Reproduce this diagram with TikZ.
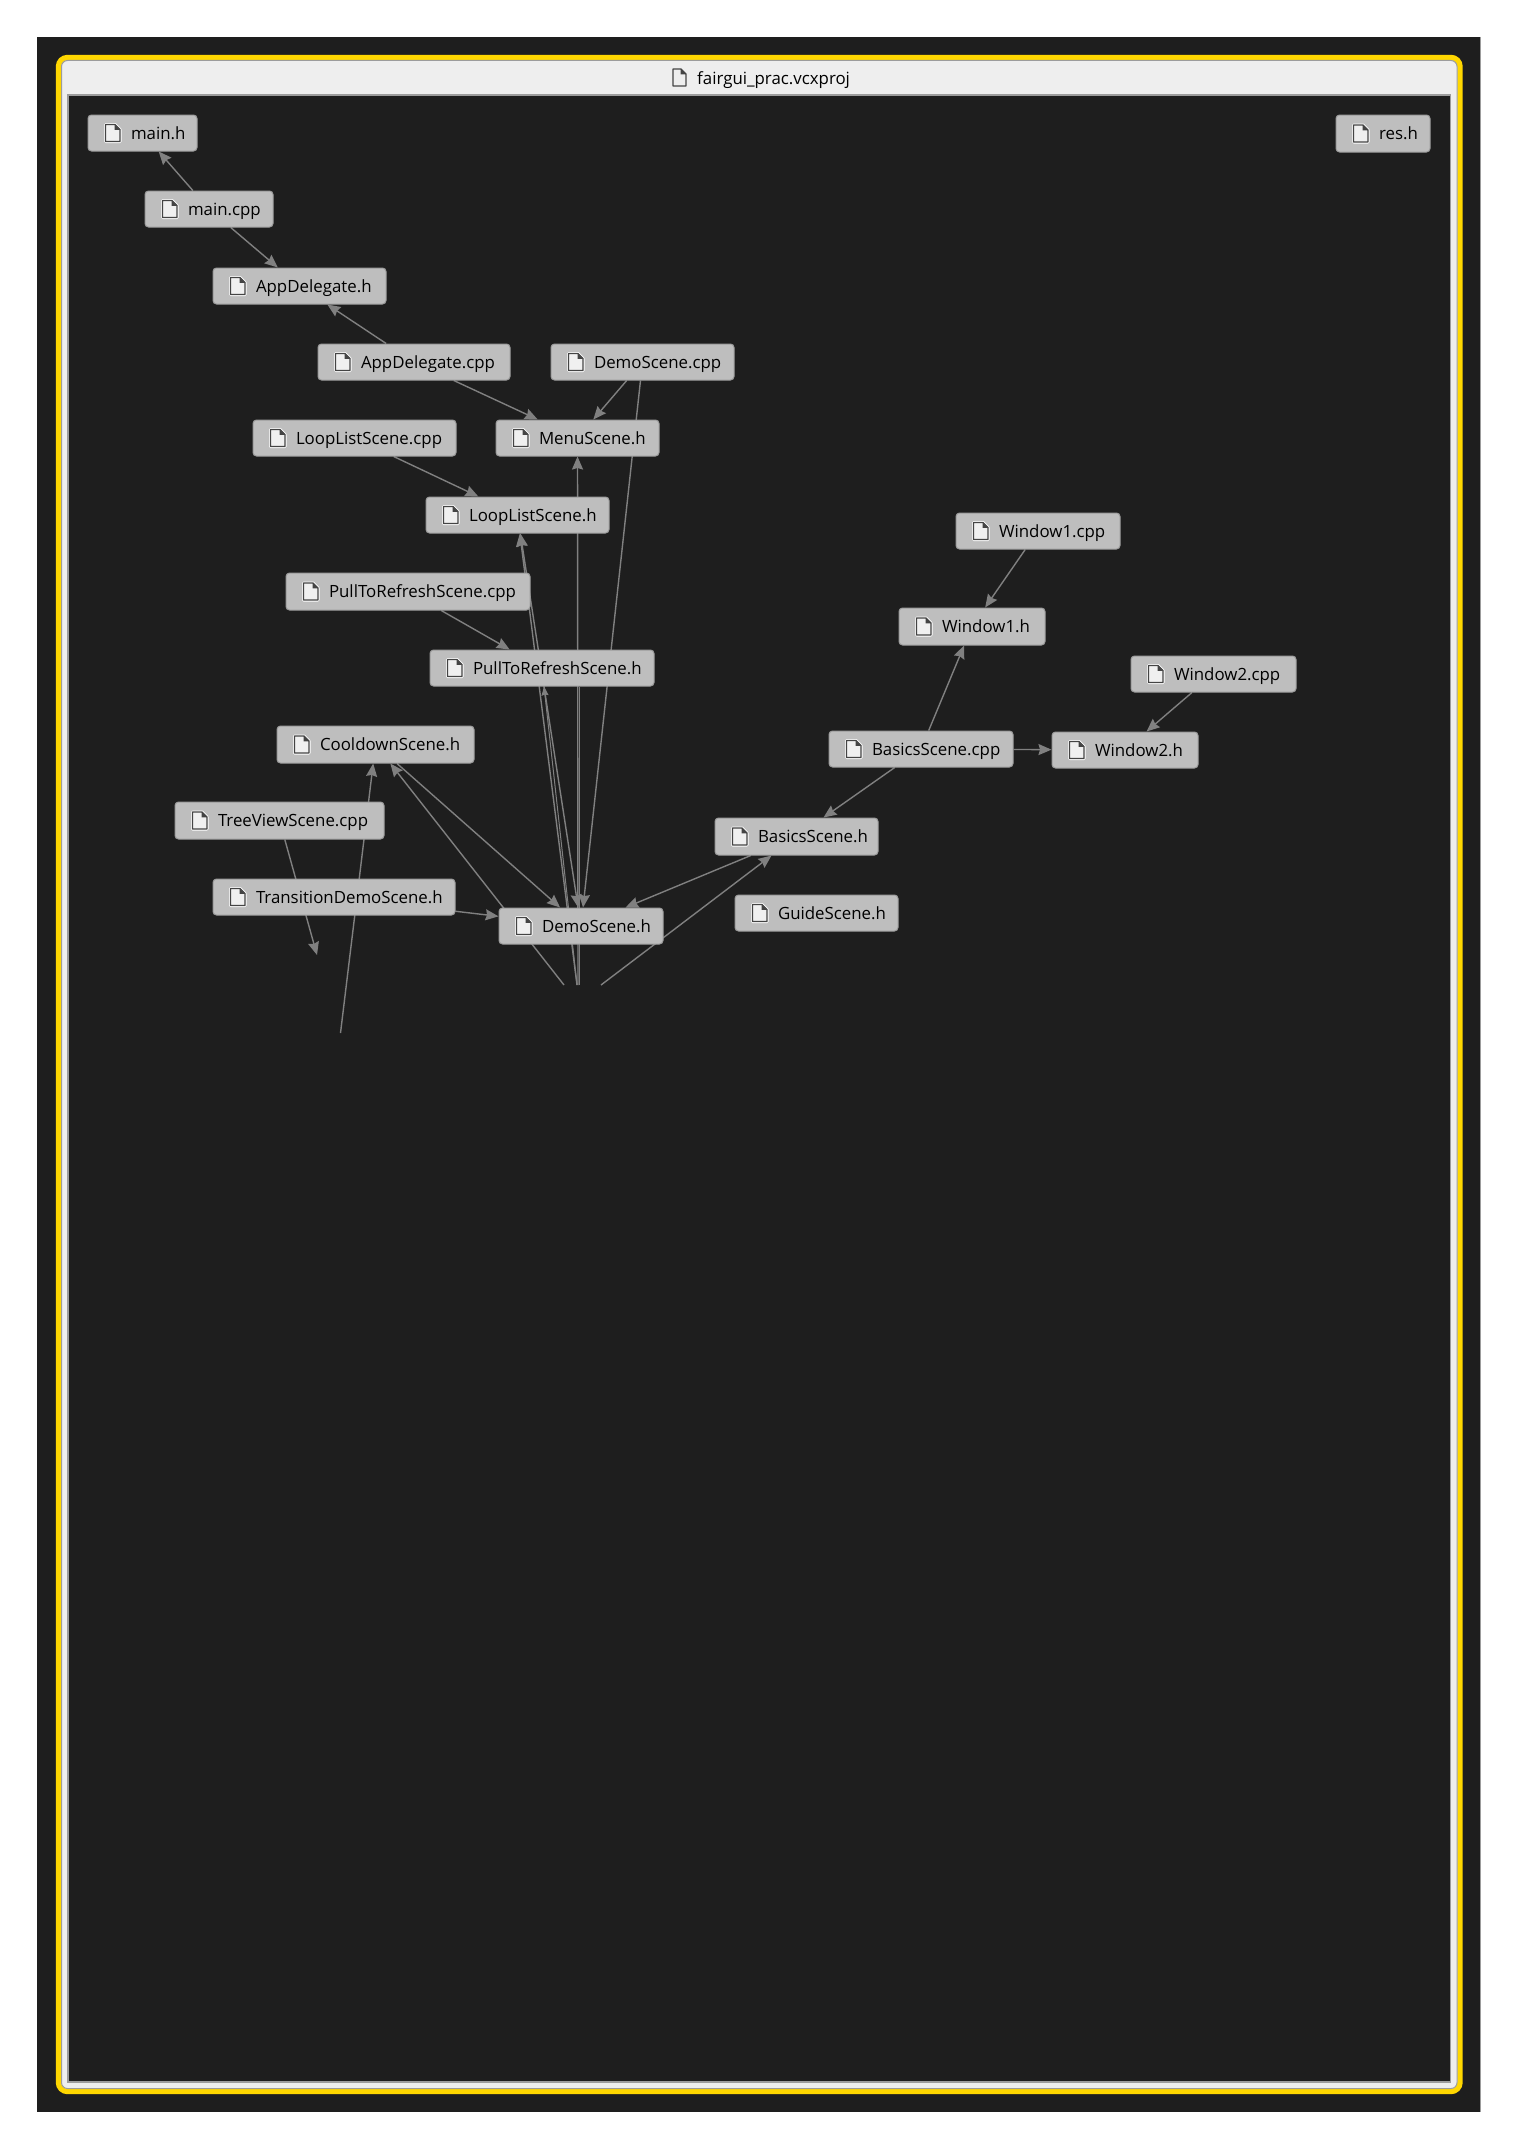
\documentclass[tikz,border=0pt]{standalone}
\usepackage{fontspec}
\setmainfont{Open Sans}
\usetikzlibrary{arrows.meta,calc}
\pgfdeclarelayer{frame}
\pgfdeclarelayer{edges}
\pgfsetlayers{frame,edges,main}
\definecolor{darkbg}{HTML}{1E1E1E}
\definecolor{boxfill}{HTML}{BEBEBE}
\definecolor{boxline}{HTML}{9C9C9C}
\definecolor{edgecol}{HTML}{808080}
\definecolor{panel}{HTML}{EEEEEE}
\definecolor{gold}{HTML}{FFD700}
\definecolor{iconline}{HTML}{444444}
\definecolor{iconfill}{HTML}{F0F0F0}
\tikzset{
  filebox/.style={draw=boxline,line width=1pt,fill=boxfill,rounded corners=3.5pt,inner sep=0pt,text=black},
  edge/.style={draw=edgecol,line width=1.4pt,-{Stealth[length=13pt,width=11pt,inset=1.5pt]}},
  biedge/.style={draw=edgecol,line width=1.4pt,{Stealth[length=13pt,width=11pt,inset=1.5pt]}-{Stealth[length=13pt,width=11pt,inset=1.5pt]}},
  plainedge/.style={draw=edgecol,line width=1.3pt},
  iconbody/.style={draw=iconline,line width=1.3pt,fill=iconfill,line join=round},
  iconhalo/.style={draw=white,line width=3pt,line join=round},
  labeltext/.style={font=\fontsize{\lblsize}{20}\selectfont}
}
\newcommand{\lblsize}{16.85}
\newcommand{\fileicon}[1]{%
  \begin{scope}[shift={(#1)}]
    \path[iconhalo] (18,-8.5) -- (27.5,-8.5) -- (32.5,-3.5) -- (32.5,8.5) -- (18,8.5) -- cycle;
    \path[iconbody] (18,-8.5) -- (27.5,-8.5) -- (32.5,-3.5) -- (32.5,8.5) -- (18,8.5) -- cycle;
    \fill[iconline] (27,-8.5) -- (32.5,-3.2) -- (27,-3.2) -- cycle;
  \end{scope}}
% name, x0, y0, x1, y1, text
\newcommand{\fnode}[6]{%
  \pgfmathsetmacro{\bw}{#4-#2}\pgfmathsetmacro{\bh}{#5-#3}%
  \pgfmathsetmacro{\cx}{(#2+#4)/2}\pgfmathsetmacro{\cy}{(#3+#5)/2}%
  \node[filebox,labeltext,minimum width=\bw pt,minimum height=\bh pt] (#1) at (\cx,\cy)
    {\makebox[\bw pt][l]{\hspace{43pt}\rule[-4.6pt]{0pt}{22pt}#6}};
  \fileicon{#1.west}}
\begin{document}
\begin{tikzpicture}[x=1pt,y=-1pt]
\useasboundingbox (0,0) rectangle (1517,2149);
\begin{pgfonlayer}{frame}
  \fill[white] (0,0) rectangle (1517,2149);
  \fill[darkbg] (37,37) rectangle (1480.5,2111.5);
  \draw[boxline,line width=1pt] (1480.5,37) -- (1480.5,2111.5);
  \draw[draw=gold,line width=5.4pt,rounded corners=9pt,fill=panel] (58.5,57.5) rectangle (1460,2091.5);
  \draw[draw=boxline,line width=1pt,rounded corners=6pt] (61.5,60.5) rectangle (1457,2088.5);
  \draw[draw=boxline,line width=1.4pt,fill=darkbg] (68,95) rectangle (1450.5,2082);
\end{pgfonlayer}
% title
\node[inner sep=0pt,anchor=west,labeltext,text=black] (title) at (697,78) {\rule[-4.6pt]{0pt}{22pt}fairgui\_prac.vcxproj};
\path[draw=iconline,line width=1.4pt,fill=panel,line join=round] (673,69) -- (681,69) -- (686,74) -- (686,86) -- (673,86) -- cycle;
\fill[iconline] (680.5,69) -- (686,74.3) -- (680.5,74.3) -- cycle;
% nodes
\fnode{mainh}{88}{115}{197}{151}{main.h}
\fnode{mainc}{145}{191}{273}{227}{main.cpp}
\fnode{apph}{213}{268}{386}{304}{AppDelegate.h}
\fnode{appc}{318}{344}{510}{380}{AppDelegate.cpp}
\fnode{democ}{551}{344}{734}{380}{DemoScene.cpp}
\fnode{menuh}{496}{420}{659}{456}{MenuScene.h}
\fnode{loopc}{253}{420}{456}{456}{LoopListScene.cpp}
\fnode{looph}{426}{497}{609}{533}{LoopListScene.h}
\fnode{pullc}{286}{573}{530}{610}{PullToRefreshScene.cpp}
\fnode{pullh}{430}{650}{654}{686}{PullToRefreshScene.h}
\fnode{coolh}{277}{726}{474}{763}{CooldownScene.h}
\fnode{treec}{175}{802}{384}{839}{TreeViewScene.cpp}
\fnode{transh}{213}{879}{455}{915}{TransitionDemoScene.h}
\fnode{demoh}{499}{908}{663}{944}{DemoScene.h}
\fnode{basich}{715}{818}{878}{855}{BasicsScene.h}
\fnode{guideh}{735}{895}{898}{931}{GuideScene.h}
\fnode{basicc}{829}{731}{1013}{767}{BasicsScene.cpp}
\fnode{winth}{899}{608}{1045}{645}{Window1.h}
\fnode{wintc}{956}{513}{1120}{549}{Window1.cpp}
\fnode{wintwoh}{1052}{732}{1198}{768}{Window2.h}
\fnode{wintwoc}{1131}{656}{1296}{692}{Window2.cpp}
\fnode{resh}{1336}{115}{1430}{152}{res.h}
% free ends of the cut-off connectors
\coordinate (fa) at (577,985);
\coordinate (fb) at (578,985);
\coordinate (fc) at (564,985);
\coordinate (fd) at (601,985);
\coordinate (fe) at (340.5,1033);
\coordinate (ff) at (317,955);
\coordinate (fg) at (579.4,985);
\coordinate (fh) at (579.4,686.5);
\begin{pgfonlayer}{edges}
  \draw[edge] (mainc) -- (mainh);
  \draw[edge] (mainc) -- (apph);
  \draw[edge] (appc) -- (apph);
  \draw[edge] (appc) -- (menuh);
  \draw[edge] (democ) -- (menuh);
  \draw[edge] (democ) -- (demoh);
  \draw[edge] (loopc) -- (looph);
  \draw[edge] (pullc) -- (pullh);
  \draw[biedge] (demoh) -- (looph);
  \draw[edge] (fa) -- (looph);
  \draw[edge,-{Stealth[length=9pt,width=7pt,inset=1pt]},line width=1pt] (fa) -- (pullh);
  \draw[edge] (fb) -- (menuh);
  \draw[plainedge,line width=1pt] (fg) -- (fh);
  \draw[edge] (fc) -- (coolh);
  \draw[edge] (coolh) -- (demoh);
  \draw[edge] (basich) -- (demoh);
  \draw[edge] (fd) -- (basich);
  \draw[edge] (basicc) -- (basich);
  \draw[edge] (basicc) -- (winth);
  \draw[edge] (basicc) -- (wintwoh);
  \draw[edge] (wintc) -- (winth);
  \draw[edge] (wintwoc) -- (wintwoh);
  \draw[edge] (transh) -- (demoh);
  \draw[edge] (treec) -- (ff);
  \draw[edge] (fe) -- (coolh);
\end{pgfonlayer}
\end{tikzpicture}
\end{document}
